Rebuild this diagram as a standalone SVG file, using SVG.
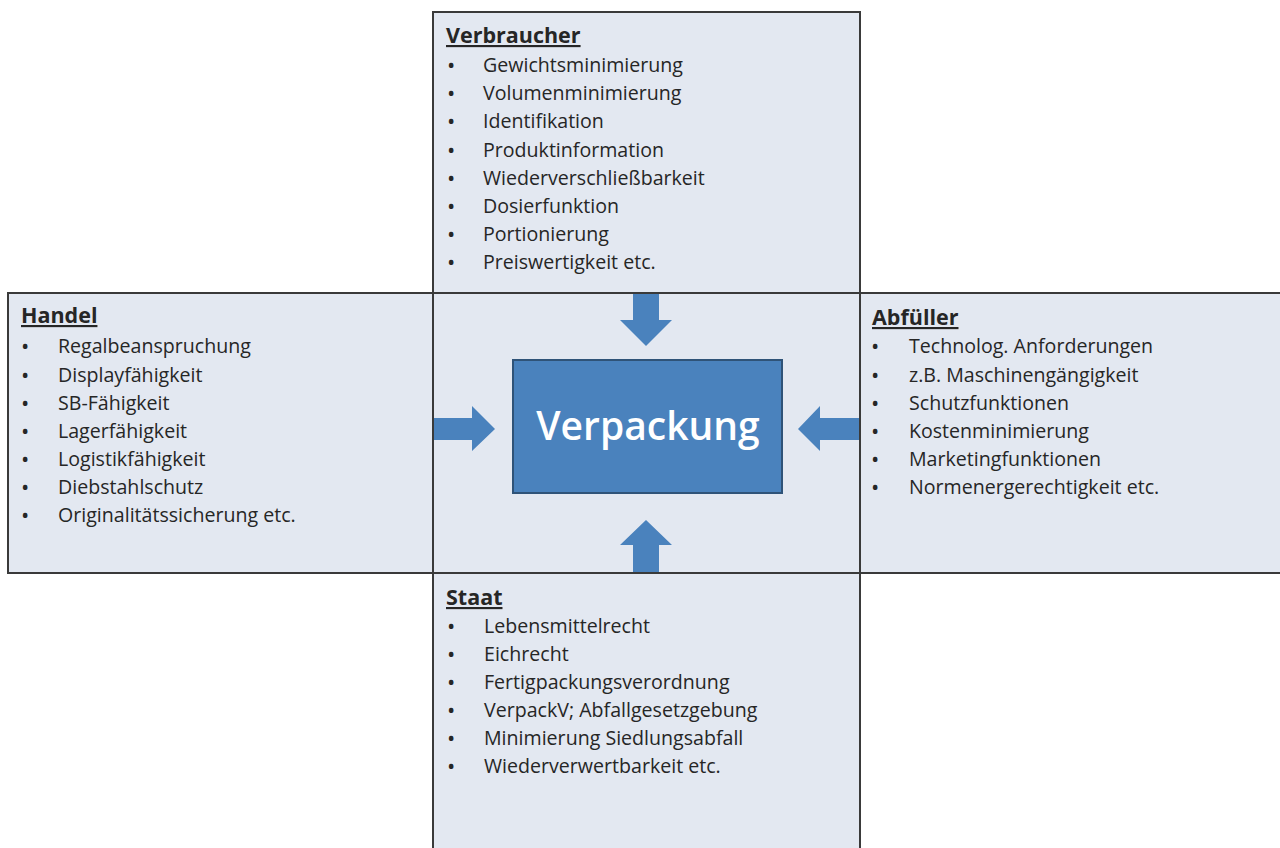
<svg xmlns="http://www.w3.org/2000/svg" width="1280" height="848" viewBox="0 0 1280 848">
<style>
.box{fill:#e3e8f1;stroke:#3a3a3a;stroke-width:2}
.t{font-family:"Open Sans","Liberation Sans",sans-serif;font-size:19.6px;fill:#262626}
.b{font-size:22px}
.h{font-family:"Open Sans","Liberation Sans",sans-serif;font-size:21.5px;font-weight:bold;fill:#262626;text-decoration:underline}
.arrow{fill:#4a82bd}
</style>
<rect width="1280" height="848" fill="#ffffff"/>
<g id="verbraucher">
<rect class="box" x="433" y="12" width="427" height="281"/>
<text class="h" x="446" y="43">Verbraucher</text>
<g class="t">
<text class="b" x="447" y="73">•</text><text x="483" y="72">Gewichtsminimierung</text>
<text class="b" x="447" y="101">•</text><text x="483" y="100">Volumenminimierung</text>
<text class="b" x="447" y="129">•</text><text x="483" y="128">Identifikation</text>
<text class="b" x="447" y="158">•</text><text x="483" y="157">Produktinformation</text>
<text class="b" x="447" y="186">•</text><text x="483" y="185">Wiederverschließbarkeit</text>
<text class="b" x="447" y="214">•</text><text x="483" y="213">Dosierfunktion</text>
<text class="b" x="447" y="242">•</text><text x="483" y="241">Portionierung</text>
<text class="b" x="447" y="270">•</text><text x="483" y="269">Preiswertigkeit etc.</text>
</g>
</g>
<g id="handel">
<rect class="box" x="8" y="293" width="425" height="280"/>
<text class="h" x="21" y="323">Handel</text>
<g class="t">
<text class="b" x="21" y="354">•</text><text x="58" y="353">Regalbeanspruchung</text>
<text class="b" x="21" y="383">•</text><text x="58" y="382">Displayfähigkeit</text>
<text class="b" x="21" y="411">•</text><text x="58" y="410">SB-Fähigkeit</text>
<text class="b" x="21" y="439">•</text><text x="58" y="438">Lagerfähigkeit</text>
<text class="b" x="21" y="467">•</text><text x="58" y="466">Logistikfähigkeit</text>
<text class="b" x="21" y="495">•</text><text x="58" y="494">Diebstahlschutz</text>
<text class="b" x="21" y="523">•</text><text x="58" y="522">Originalitätssicherung etc.</text>
</g>
</g>
<g id="abfueller">
<rect class="box" x="860" y="293" width="424" height="280"/>
<text class="h" x="872" y="325">Abfüller</text>
<g class="t">
<text class="b" x="871" y="354">•</text><text x="909" y="353">Technolog. Anforderungen</text>
<text class="b" x="871" y="383">•</text><text x="909" y="382">z.B. Maschinengängigkeit</text>
<text class="b" x="871" y="411">•</text><text x="909" y="410">Schutzfunktionen</text>
<text class="b" x="871" y="439">•</text><text x="909" y="438">Kostenminimierung</text>
<text class="b" x="871" y="467">•</text><text x="909" y="466">Marketingfunktionen</text>
<text class="b" x="871" y="495">•</text><text x="909" y="494">Normenergerechtigkeit etc.</text>
</g>
</g>
<g id="staat">
<rect class="box" x="433" y="573" width="427" height="285"/>
<text class="h" x="446" y="605">Staat</text>
<g class="t">
<text class="b" x="447" y="634">•</text><text x="484" y="633">Lebensmittelrecht</text>
<text class="b" x="447" y="662">•</text><text x="484" y="661">Eichrecht</text>
<text class="b" x="447" y="690">•</text><text x="484" y="689">Fertigpackungsverordnung</text>
<text class="b" x="447" y="718">•</text><text x="484" y="717">VerpackV; Abfallgesetzgebung</text>
<text class="b" x="447" y="746">•</text><text x="484" y="745">Minimierung Siedlungsabfall</text>
<text class="b" x="447" y="774">•</text><text x="484" y="773">Wiederverwertbarkeit etc.</text>
</g>
</g>
<g id="mitte">
<rect class="box" x="433" y="293" width="427" height="280"/>
</g>
<g id="connectors">
<polygon class="arrow" points="633,294 659,294 659,320 672,320 646,346 620,320 633,320"/>
<polygon class="arrow" points="434,418 472,418 472,406 495,429 472,451 472,440 434,440"/>
<polygon class="arrow" points="859,418 820,418 820,406 798,429 820,451 820,440 859,440"/>
<polygon class="arrow" points="633,572 659,572 659,545 672,545 646,520 620,545 633,545"/>
</g>
<g id="verpackung">
<rect x="513" y="360" width="269" height="133" fill="#4a82bd" stroke="#2f5378" stroke-width="2"/>
<text x="648" y="440" text-anchor="middle" font-family="'Open Sans','Liberation Sans',sans-serif" font-size="39" font-weight="600" fill="#ffffff">Verpackung</text>
</g>
</svg>
